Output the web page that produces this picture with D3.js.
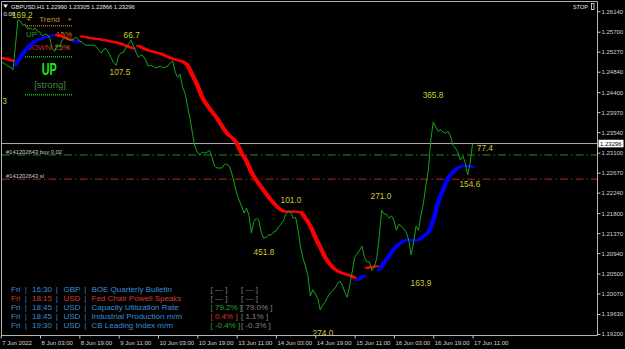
<!DOCTYPE html>
<html>
<head>
<meta charset="utf-8">
<script src="https://cdn.jsdelivr.net/npm/d3@7"></script>
<style>
html, body { margin: 0; padding: 0; background: #000; }
svg { display: block; font-family: "Liberation Sans", Arial, sans-serif; }
</style>
</head>
<body>
<svg id="chart" width="625" height="349"></svg>
<script>
// GBPUSD H1 closes, one per bar. bar 0 = 7 Jun 11:00, bar 192 = 17 Jun 11:00
var closes = [
  1.2505,1.2503,1.2500,1.2496,1.2494,1.2488,1.2541,1.2595,1.2593,1.2584,
  1.2586,1.2576,1.2578,1.2574,1.2578,1.2571,1.2569,1.2561,1.2565,1.2563,
  1.2556,1.2533,1.2528,1.2543,1.2537,1.2552,1.2558,1.2554,1.2552,1.2552,
  1.2556,1.2558,1.2550,1.2548,1.2543,1.2541,1.2541,1.2541,1.2541,1.2537,
  1.2530,1.2524,1.2533,1.2533,1.2524,1.2513,1.2503,1.2498,1.2520,1.2524,
  1.2526,1.2537,1.2543,1.2552,1.2539,1.2526,1.2515,1.2520,1.2518,1.2509,
  1.2496,1.2498,1.2496,1.2492,1.2494,1.2496,1.2492,1.2494,1.2496,1.2503,
  1.2507,1.2483,1.2472,1.2479,1.2451,1.2438,1.2410,1.2384,1.2352,1.2324,
  1.2311,1.2305,1.2311,1.2309,1.2311,1.2315,1.2300,1.2281,1.2277,1.2277,
  1.2277,1.2285,1.2285,1.2281,1.2266,1.2245,1.2223,1.2208,1.2195,1.2180,
  1.2191,1.2176,1.2137,1.2161,1.2169,1.2165,1.2139,1.2126,1.2128,1.2133,
  1.2133,1.2139,1.2141,1.2150,1.2156,1.2163,1.2178,1.2184,1.2182,1.2169,
  1.2171,1.2143,1.2107,1.2083,1.2066,1.2045,1.2002,1.2015,1.2006,1.1997,
  1.1972,1.1982,1.1989,1.1999,1.2008,1.2012,1.2019,1.2027,1.2034,1.2025,
  1.2010,1.1999,1.2025,1.2053,1.2085,1.2092,1.2100,1.2109,1.2085,1.2075,
  1.2075,1.2057,1.2064,1.2083,1.2128,1.2186,1.2178,1.2178,1.2169,1.2174,
  1.2165,1.2143,1.2156,1.2152,1.2146,1.2139,1.2122,1.2090,1.2118,1.2152,
  1.2143,1.2176,1.2202,1.2240,1.2273,1.2337,1.2376,1.2365,1.2356,1.2359,
  1.2354,1.2352,1.2356,1.2346,1.2326,1.2320,1.2311,1.2294,1.2303,1.2288,
  1.2262,1.2288,1.23296
];

// trend line (thick), -1 = down (red), 1 = up (blue)
var maBars = [0,2,4,5, 6,8,10,12,14,16,18,20,22, 23,26,29, 30,32,
  33,36,40,44,48,51,54, 55,
  56,60,65,69,72,74,76,78,80,82,84,88,92,96,98,100,102,106,110,113,116,120,122,124,126,128,130,132,134,136,138,140,143,144,
  145,148, 149,151,153,
  154,156,158,160,162,164,166,168,170,172,174,176,178,180,182,184,186,188,190,192];
var maValues = [1.2514,1.2512,1.2509,1.2507, 1.2498,1.2515,1.2530,1.2541,1.2550,1.2554,1.2558,1.2561,1.2563,
  1.2564,1.2558,1.2552, 1.2549,1.2549,
  1.2560,1.2557,1.2554,1.2550,1.2546,1.2540,1.2534, 1.2529,
  1.2540,1.2530,1.2523,1.2514,1.2509,1.2506,1.2498,1.2477,1.2455,1.2429,1.2412,1.2384,1.2352,1.2331,1.2309,1.2292,1.2268,1.2236,1.2208,1.2191,1.2183,1.2183,1.2182,1.2169,1.2152,1.2128,1.2107,1.2085,1.2070,1.2059,1.2053,1.2049,1.2044,1.2041,
  1.2036,1.2046, 1.2062,1.2064,1.2066,
  1.2058,1.2073,1.2088,1.2103,1.2113,1.2120,1.2123,1.2121,1.2122,1.2130,1.2139,1.2165,1.2204,1.2230,1.2255,1.2268,1.2277,1.2281,1.2281,1.2280];
var maTrend = [-1,-1,-1,-1, 1,1,1,1,1,1,1,1,1, -1,-1,-1, 1,1,
  -1,-1,-1,-1,-1,-1,-1, 1,
  -1,-1,-1,-1,-1,-1,-1,-1,-1,-1,-1,-1,-1,-1,-1,-1,-1,-1,-1,-1,-1,-1,-1,-1,-1,-1,-1,-1,-1,-1,-1,-1,-1,-1,
  1,1, -1,-1,-1,
  1,1,1,1,1,1,1,1,1,1,1,1,1,1,1,1,1,1,1,1];

// swing labels (pips)
var swingBars   = [8.8, 53.3, 48.5, 1.6, 175.9, 197, 190.9, 154.7, 118.1, 107.1, 171, 131.1];
var swingPrices = [1.2606, 1.2563, 1.2483, 1.2421, 1.2434, 1.2320, 1.2242, 1.2217, 1.2208, 1.2096, 1.2030, 1.1922];
var swingTexts  = ["169.2","66.7","107.5","3","365.8","77.4","154.6","271.0","101.0","451.8","163.9","274.0"];

var tickBars = [0,16,32,48,64,80,96,112,128,144,160,176,192];
var tickLabels = ["7 Jun 2022","8 Jun 03:00","8 Jun 19:00","9 Jun 11:00","10 Jun 03:00","10 Jun 19:00",
  "13 Jun 11:00","14 Jun 03:00","14 Jun 19:00","15 Jun 11:00","16 Jun 03:00","16 Jun 19:00","17 Jun 11:00"];
var priceTicks = [1.2614,1.2570,1.2527,1.2484,1.2440,1.2397,1.2354,1.2310,1.2267,1.2224,1.2180,1.2137,1.2094,1.2050,1.2007,1.1963,1.1920];

var lastPrice = 1.23296;
var buyPrice = 1.2305, slPrice = 1.2253;

// news panel
var newsDay   = ["Fri","Fri","Fri","Fri","Fri"];
var newsTime  = ["16:30","18:15","18:45","18:45","19:30"];
var newsCur   = ["GBP","USD","USD","USD","USD"];
var newsTitle = ["BOE Quarterly Bulletin","Fed Chair Powell Speaks","Capacity Utilization Rate","Industrial Production m/m","CB Leading Index m/m"];
var newsHigh  = [false,true,false,false,false];
var newsActual   = ["---","---","79.2%","0.4%","-0.4%"];
var newsForecast = ["---","---","79.0%","1.1%","-0.3%"];
var newsResult   = [0,0,1,-1,1];

var svg = d3.select("#chart");
var x = d3.scaleLinear().domain([0, 192]).range([0.7, 472.6]);
var y = d3.scaleLinear().domain([1.192, 1.2614]).range([334, 11.3]);

svg.append("rect").attr("width", 625).attr("height", 349).attr("fill", "#000");
svg.append("defs").append("clipPath").attr("id", "clip")
  .append("rect").attr("x", 2).attr("y", 2).attr("width", 595).attr("height", 333);

// frame
svg.append("path").attr("d", "M1.5,1.5H597.5V335.5H1.5Z")
  .attr("fill", "none").attr("stroke", "#b4b4b4").attr("stroke-width", 1);

// header
svg.append("path").attr("d", "M3,4.5L8,4.5L5.5,8Z").attr("fill", "#e6e6e6");
svg.append("text").attr("x", 11).attr("y", 8.6).attr("font-size", 5.8).attr("fill", "#e6e6e6")
  .text("GBPUSD,H1  1.22990 1.23305 1.22866 1.23296");
svg.append("text").attr("x", 573).attr("y", 9).attr("font-size", 5.5).attr("fill", "#e6e6e6").text("STOP");
svg.append("rect").attr("x", 591.5).attr("y", 3.5).attr("width", 2.5).attr("height", 6)
  .attr("fill", "none").attr("stroke", "#e6e6e6").attr("stroke-width", 0.8);
svg.append("text").attr("x", 3.5).attr("y", 16.3).attr("font-size", 6).attr("fill", "#e6e6e6").text("0.09");

// trend panel
var panel = svg.append("g").attr("font-size", 8);
function ptext(t, px, py, col, anchor) {
  return panel.append("text").attr("x", px).attr("y", py).attr("dy", "0.35em")
    .attr("text-anchor", anchor || "start").attr("fill", col).text(t);
}
ptext("+", 28.7, 19, "#c98a2d", "middle");
ptext("Trend", 49.5, 19, "#c98a2d", "middle");
ptext("+", 69.7, 19, "#c98a2d", "middle");
ptext("UP", 26, 34.3, "#20a020");
ptext("15%", 56, 34.3, "#cc6e34");
ptext("DOWN", 26, 46.7, "#cc2a2a");
ptext("25%", 54, 46.7, "#cc6e34");
ptext("UP", 49.3, 69.5, "#1ee61e", "middle").attr("font-size", 17).attr("font-weight", "bold")
  .attr("textLength", 15).attr("lengthAdjust", "spacingAndGlyphs");
ptext("[strong]", 50, 84.3, "#3f8a3f", "middle").attr("font-size", 9.5);
[[25.7, "#a8682a"], [56.7, "#18b418"], [94.7, "#18b418"]].forEach(function (d) {
  panel.append("line").attr("x1", 25).attr("x2", 73).attr("y1", d[0]).attr("y2", d[0])
    .attr("stroke", d[1]).attr("stroke-width", 1.6).attr("stroke-dasharray", "1,1");
});

// news table
var blue = "#3a8ed4", redTxt = "#d23c2d", grey = "#808080";
var news = svg.append("g").attr("font-size", 8);
newsDay.forEach(function (d, i) {
  var ry = 289 + i * 9;
  var c = newsHigh[i] ? redTxt : blue;
  function nt(t, px, col, anchor) {
    news.append("text").attr("x", px).attr("y", ry).attr("dy", "0.35em")
      .attr("text-anchor", anchor || "start").attr("fill", col).text(t);
  }
  nt(d, 11, c);
  nt("|", 25.7, blue, "middle");
  nt(newsTime[i], 32, c);
  nt("|", 56.8, blue, "middle");
  nt(newsCur[i], 63.5, c);
  nt("|", 85.3, blue, "middle");
  nt(newsTitle[i], 91.5, c);
  var ac = newsResult[i] > 0 ? "#2ea02e" : newsResult[i] < 0 ? "#d63a2a" : grey;
  nt("[ " + newsActual[i] + " ]", 210.5, ac);
  nt("[ " + newsForecast[i] + " ]", 241, grey);
});

// order lines
var plot = svg.append("g").attr("clip-path", "url(#clip)");
plot.append("line").attr("x1", 2).attr("x2", 597).attr("y1", y(buyPrice)).attr("y2", y(buyPrice))
  .attr("stroke", "#1f8f1f").attr("stroke-dasharray", "8,3,1.5,3");
plot.append("line").attr("x1", 2).attr("x2", 597).attr("y1", y(slPrice)).attr("y2", y(slPrice))
  .attr("stroke", "#c01e1e").attr("stroke-dasharray", "8,3,1.5,3");
plot.append("text").attr("x", 6).attr("y", y(buyPrice) - 1).attr("font-size", 5.8).attr("fill", "#c8c8c8")
  .text("#141202643 buy 0.02");
plot.append("text").attr("x", 6).attr("y", y(slPrice) - 1.5).attr("font-size", 5.8).attr("fill", "#c8c8c8")
  .text("#141202643 sl");
plot.append("line").attr("x1", 2).attr("x2", 597).attr("y1", y(lastPrice)).attr("y2", y(lastPrice))
  .attr("stroke", "#b0b0b0");

// trend line, split into runs of the same direction
var groups = [];
maBars.forEach(function (b, i) {
  var last = groups[groups.length - 1];
  if (!last || last.trend !== maTrend[i]) { last = { trend: maTrend[i], pts: [] }; groups.push(last); }
  last.pts.push([b, maValues[i]]);
});
var maLine = d3.line().x(function (d) { return x(d[0]); }).y(function (d) { return y(d[1]); })
  .curve(d3.curveMonotoneX);
groups.forEach(function (g) {
  var col = g.trend < 0 ? "#ff0000" : "#0000ff";
  if (g.pts.length === 1) {
    plot.append("circle").attr("cx", x(g.pts[0][0])).attr("cy", y(g.pts[0][1])).attr("r", 1.2).attr("fill", col);
    return;
  }
  [-1.4, 0, 1.4].forEach(function (off) {
    plot.append("path").attr("d", maLine(g.pts)).attr("transform", "translate(" + off + ",0)")
      .attr("fill", "none").attr("stroke", col).attr("stroke-width", 1.8).attr("stroke-linecap", "round");
  });
});

// close line
var closeLine = d3.line().x(function (d, i) { return x(i); }).y(function (d) { return y(d); });
plot.append("path").attr("d", closeLine(closes)).attr("fill", "none")
  .attr("stroke", "#16a516").attr("stroke-width", 1);

// swing labels
plot.selectAll("text.swing").data(swingTexts).enter().append("text").attr("class", "swing")
  .attr("x", function (d, i) { return x(swingBars[i]); })
  .attr("y", function (d, i) { return y(swingPrices[i]); })
  .attr("dy", "0.35em").attr("text-anchor", "middle").attr("font-size", 8.3).attr("fill", "#cdcd2c")
  .text(function (d) { return d; });

// axes
var yAxis = d3.axisRight(y).tickValues(priceTicks).tickFormat(d3.format(".5f")).tickSize(3).tickPadding(1);
var gy = svg.append("g").attr("transform", "translate(597.5,0)").call(yAxis);
gy.select(".domain").remove();
gy.attr("font-size", 6).attr("font-family", null);
gy.selectAll("line").attr("stroke", "#c8c8c8");
gy.selectAll("text").attr("fill", "#d4d4d4");

var xAxis = d3.axisBottom(x).tickValues(tickBars).tickFormat(function (d, i) { return tickLabels[i]; })
  .tickSize(3).tickPadding(2);
var gx = svg.append("g").attr("transform", "translate(0,335.5)").call(xAxis);
gx.select(".domain").remove();
gx.attr("font-size", 6).attr("font-family", null).attr("text-anchor", "start");
gx.selectAll("line").attr("stroke", "#c8c8c8");
gx.selectAll("text").attr("fill", "#d4d4d4").attr("dx", 1);

// last price tag
svg.append("rect").attr("x", 598.5).attr("y", y(lastPrice) - 3.8).attr("width", 25).attr("height", 7.6)
  .attr("fill", "#fff");
svg.append("text").attr("x", 600).attr("y", y(lastPrice)).attr("dy", "0.35em").attr("font-size", 6)
  .attr("fill", "#000").text(d3.format(".5f")(lastPrice));
</script>
</body>
</html>
